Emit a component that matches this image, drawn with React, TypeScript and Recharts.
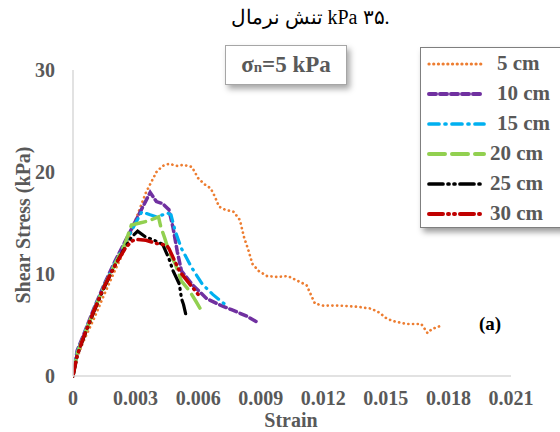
import { CartesianGrid, Line, LineChart, XAxis, YAxis } from "recharts"

// strain / shear stress (kPa), one pair of arrays per height
const strain5 = [0, 0.0002, 0.0005, 0.001, 0.0015, 0.002, 0.0025, 0.003, 0.0035, 0.004, 0.0043, 0.0046, 0.005, 0.0053, 0.0057, 0.006, 0.0063, 0.0066, 0.0068, 0.007, 0.0073, 0.0077, 0.008, 0.0082, 0.0084, 0.0086, 0.0089, 0.0093, 0.0098, 0.0103, 0.0107, 0.0112, 0.0114, 0.0116, 0.012, 0.0128, 0.0136, 0.0143, 0.0147, 0.015, 0.0153, 0.016, 0.0167, 0.017, 0.0172, 0.0176]
const stress5 = [0, 1.8, 3.4, 5.6, 8.0, 10.3, 12.5, 15.3, 18.0, 20.0, 20.6, 20.8, 20.6, 20.7, 20.5, 19.4, 18.8, 18.4, 17.6, 16.6, 16.3, 16.1, 15.3, 13.6, 12.4, 11.0, 10.3, 9.8, 9.7, 9.8, 9.4, 8.9, 8.0, 7.1, 6.9, 6.9, 6.8, 6.6, 6.2, 5.7, 5.4, 5.1, 5.1, 4.2, 4.6, 4.9]

const strain10 = [0, 0.0002, 0.0005, 0.001, 0.0015, 0.002, 0.0025, 0.003, 0.0034, 0.0037, 0.004, 0.0043, 0.0046, 0.0048, 0.005, 0.0052, 0.0057, 0.0064, 0.007, 0.0076, 0.0083, 0.0089]
const stress10 = [0, 2.5, 4.0, 6.6, 9.0, 11.2, 13.2, 15.2, 16.8, 18.0, 17.1, 16.9, 16.3, 14.5, 12.2, 10.3, 9.0, 7.6, 7.0, 6.5, 5.9, 5.2]

const strain15 = [0, 0.0002, 0.0005, 0.001, 0.0015, 0.002, 0.0025, 0.003, 0.0033, 0.0037, 0.004, 0.0043, 0.0045, 0.0047, 0.0049, 0.0052, 0.0057, 0.0062, 0.0067, 0.0073]
const stress15 = [0, 2.3, 3.9, 6.5, 8.9, 11.0, 13.0, 15.0, 16.1, 15.8, 15.6, 15.8, 16.0, 15.8, 14.2, 12.5, 10.6, 9.0, 8.0, 7.0]

const strain20 = [0, 0.0002, 0.0005, 0.001, 0.0015, 0.002, 0.0025, 0.0028, 0.0032, 0.0036, 0.0041, 0.0042, 0.0044, 0.0046, 0.0049, 0.0052, 0.0056, 0.0059, 0.0061]
const stress20 = [0, 2.2, 3.8, 6.4, 8.8, 10.9, 13.0, 14.8, 15.0, 15.2, 15.6, 14.7, 13.5, 12.2, 11.0, 9.3, 8.3, 7.3, 6.6]

const strain25 = [0, 0.0002, 0.0005, 0.001, 0.0015, 0.002, 0.0025, 0.0028, 0.0031, 0.0035, 0.0038, 0.0043, 0.0046, 0.0048, 0.0051, 0.0052, 0.0053, 0.0054]
const stress25 = [0, 2.0, 3.7, 6.3, 8.7, 10.8, 12.6, 13.6, 14.2, 13.6, 13.4, 12.9, 11.5, 10.3, 9.0, 7.6, 7.0, 6.1]

const strain30 = [0, 0.0002, 0.0005, 0.001, 0.0015, 0.002, 0.0025, 0.0028, 0.003, 0.0035, 0.004, 0.0045, 0.0046, 0.0051, 0.0056, 0.006, 0.0061]
const stress30 = [0, 2.0, 3.8, 6.4, 8.8, 10.8, 12.5, 13.2, 13.4, 13.3, 13.0, 12.8, 12.5, 10.3, 9.0, 8.0, 7.6]

const xTicks = [0, 0.003, 0.006, 0.009, 0.012, 0.015, 0.018, 0.021]
const yTicks = [0, 10, 20, 30]

const toPoints = (xs: number[], ys: number[]) => xs.map((x, i) => ({ x, y: ys[i] }))

const series = [
  { name: "5 cm", data: toPoints(strain5, stress5), color: "#ED7D31", dash: "0.1 4.6", width: 2.7 },
  { name: "10 cm", data: toPoints(strain10, stress10), color: "#7030A0", dash: "7 4", width: 3.5 },
  { name: "15 cm", data: toPoints(strain15, stress15), color: "#00B0F0", dash: "10 6 1 6", width: 3.2 },
  { name: "20 cm", data: toPoints(strain20, stress20), color: "#92D050", dash: "16 7", width: 3.5 },
  { name: "25 cm", data: toPoints(strain25, stress25), color: "#000000", dash: "14 5 1 5 1 5", width: 3.2 },
  { name: "30 cm", data: toPoints(strain30, stress30), color: "#C00000", dash: "14 5 1 5 1 5", width: 3.5 },
]

const serif = "'Liberation Serif', 'Times New Roman', serif"
const gray = "#595959"
const tickStyle = { fontFamily: serif, fontSize: 20, fontWeight: "bold" as const, fill: gray }

function LegendBox() {
  return (
    <div
      style={{
        position: "absolute",
        left: 420,
        top: 47,
        width: 170,
        height: 179,
        border: "1.5px solid #7F7F7F",
        boxShadow: "3px 4px 6px rgba(0,0,0,0.4)",
        background: "#fff",
      }}
    >
      {series.map((s, i) => (
        <div key={s.name} style={{ position: "absolute", left: 0, top: 2 + i * 30, height: 30, width: 150 }}>
          <svg width={70} height={30} style={{ position: "absolute", left: 0, top: 0 }}>
            <line
              x1={8}
              x2={63}
              y1={14}
              y2={14}
              stroke={s.color}
              strokeWidth={s.width + 0.5}
              strokeDasharray={s.dash}
              strokeLinecap="round"
            />
          </svg>
          <span
            style={{
              position: "absolute",
              left: i < 3 ? 76 : 69,
              top: 1,
              fontFamily: serif,
              fontWeight: "bold",
              fontSize: 21,
              color: gray,
              whiteSpace: "nowrap",
            }}
          >
            {s.name}
          </span>
        </div>
      ))}
    </div>
  )
}

export default function App() {
  return (
    <div style={{ position: "absolute", left: 0, top: 0, width: 560, height: 432, overflow: "hidden", background: "#fff" }}>
      <div
        style={{
          position: "absolute",
          left: 0,
          width: 620,
          top: 5,
          textAlign: "center",
          fontFamily: serif,
          fontSize: 20,
          direction: "ltr",
          whiteSpace: "nowrap",
        }}
      >
        تنش نرمال kPa ۳۵.
      </div>

      <LineChart
        width={560}
        height={432}
        margin={{ top: 70, right: 49, left: 0, bottom: 0 }}
        style={{ position: "absolute", left: 0, top: 0 }}
      >
        <CartesianGrid horizontal={false} vertical={false} />
        <XAxis
          dataKey="x"
          type="number"
          domain={[0, 0.021]}
          ticks={xTicks}
          tickFormatter={(v: number) => (v === 0 ? "0" : v.toFixed(3))}
          tickLine={false}
          tickSize={0}
          tickMargin={15}
          height={56}
          axisLine={{ stroke: "#D9D9D9", strokeWidth: 1.5 }}
          tick={tickStyle}
          allowDataOverflow
        />
        <YAxis
          type="number"
          domain={[0, 30]}
          ticks={yTicks}
          tickLine={false}
          tickSize={0}
          tickMargin={18}
          width={73}
          axisLine={{ stroke: "#D9D9D9", strokeWidth: 1.5 }}
          tick={tickStyle}
        />
        {series.map((s) => (
          <Line
            key={s.name}
            data={s.data}
            dataKey="y"
            name={s.name}
            type="linear"
            stroke={s.color}
            strokeWidth={s.width}
            strokeDasharray={s.dash}
            strokeLinecap="round"
            dot={false}
            activeDot={false}
            isAnimationActive={false}
          />
        ))}
      </LineChart>

      <div
        style={{
          position: "absolute",
          left: 23,
          top: 225,
          transform: "translate(-50%, -50%) rotate(-90deg)",
          fontFamily: serif,
          fontWeight: "bold",
          fontSize: 20,
          color: gray,
          whiteSpace: "nowrap",
        }}
      >
        Shear Stress (kPa)
      </div>

      <div
        style={{
          position: "absolute",
          left: 291,
          top: 420,
          transform: "translate(-50%, -50%)",
          fontFamily: serif,
          fontWeight: "bold",
          fontSize: 20,
          color: gray,
        }}
      >
        Strain
      </div>

      <div
        style={{
          position: "absolute",
          left: 225,
          top: 45,
          width: 120,
          height: 38,
          border: "1px solid #A6A6A6",
          boxShadow: "3px 4px 6px rgba(0,0,0,0.35)",
          background: "#fff",
          display: "flex",
          alignItems: "center",
          justifyContent: "center",
          fontFamily: serif,
          fontWeight: "bold",
          fontSize: 23,
          color: gray,
          whiteSpace: "nowrap",
        }}
      >
        σ<span style={{ fontSize: 15, position: "relative", top: 2 }}>n</span>=5 kPa
      </div>

      <LegendBox />

      <div
        style={{
          position: "absolute",
          left: 490,
          top: 324,
          transform: "translate(-50%, -50%)",
          fontFamily: serif,
          fontWeight: "bold",
          fontSize: 19,
          color: "#000",
        }}
      >
        (a)
      </div>
    </div>
  )
}
